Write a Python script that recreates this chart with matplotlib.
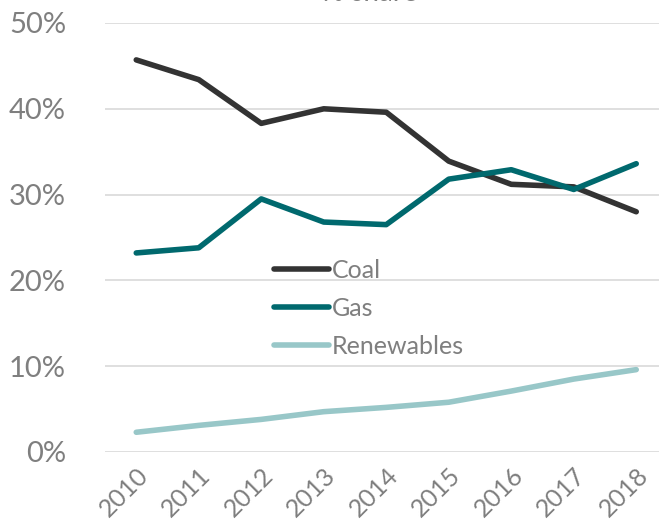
import matplotlib
matplotlib.use("Agg")
import matplotlib.pyplot as plt
from matplotlib.ticker import FuncFormatter

years = ["2010", "2011", "2012", "2013", "2014", "2015", "2016", "2017", "2018"]
coal = [45.7, 43.4, 38.3, 40.0, 39.6, 33.9, 31.2, 30.9, 28.0]
gas = [23.2, 23.8, 29.5, 26.8, 26.5, 31.8, 32.9, 30.6, 33.6]
renewables = [2.3, 3.1, 3.8, 4.7, 5.2, 5.8, 7.1, 8.5, 9.6]

plt.rcParams['font.family'] = ['Lato', 'DejaVu Sans']

W, H = 659, 527
fig = plt.figure(figsize=(W / 100, H / 100), dpi=100)
ax = fig.add_axes([105 / W, (H - 452) / H, (W - 105) / W, (452 - 23) / H])

x = list(range(len(years)))
ax.plot(x, coal, color="#333333", lw=4, label="Coal", solid_capstyle="round", zorder=3)
ax.plot(x, gas, color="#00696e", lw=4, label="Gas", solid_capstyle="round", zorder=3)
ax.plot(x, renewables, color="#98c7c8", lw=4, label="Renewables", solid_capstyle="round", zorder=3)

ax.set_xlim(-0.5, -0.5 + (W - 105) / 62.5)
ax.set_ylim(0, 50)
ax.set_yticks([0, 10, 20, 30, 40, 50])
ax.yaxis.set_major_formatter(FuncFormatter(lambda v, p: f"{int(v)}%"))
ax.set_xticks(x)
ax.set_xticklabels(years, rotation=45, ha="right", rotation_mode="anchor")
ax.grid(axis="y", color="#d9d9d9", lw=1.2)
ax.set_axisbelow(True)
for s in ax.spines.values():
    s.set_visible(False)
ax.tick_params(axis="both", length=0, colors="#7f7f7f")
ax.tick_params(axis="y", labelsize=21, pad=28)
ax.tick_params(axis="x", labelsize=18, pad=8)

leg = ax.legend(loc="upper left", bbox_to_anchor=(0.265, 0.503), frameon=False,
                fontsize=18, handlelength=2.2, handletextpad=0.1, labelspacing=0.6,
                labelcolor="#7f7f7f")

fig.text(370 / W, 1.0 - 1 / H, "% share", ha="center", va="baseline", fontsize=20, color="#7f7f7f")

fig.savefig("out.png", dpi=100)
